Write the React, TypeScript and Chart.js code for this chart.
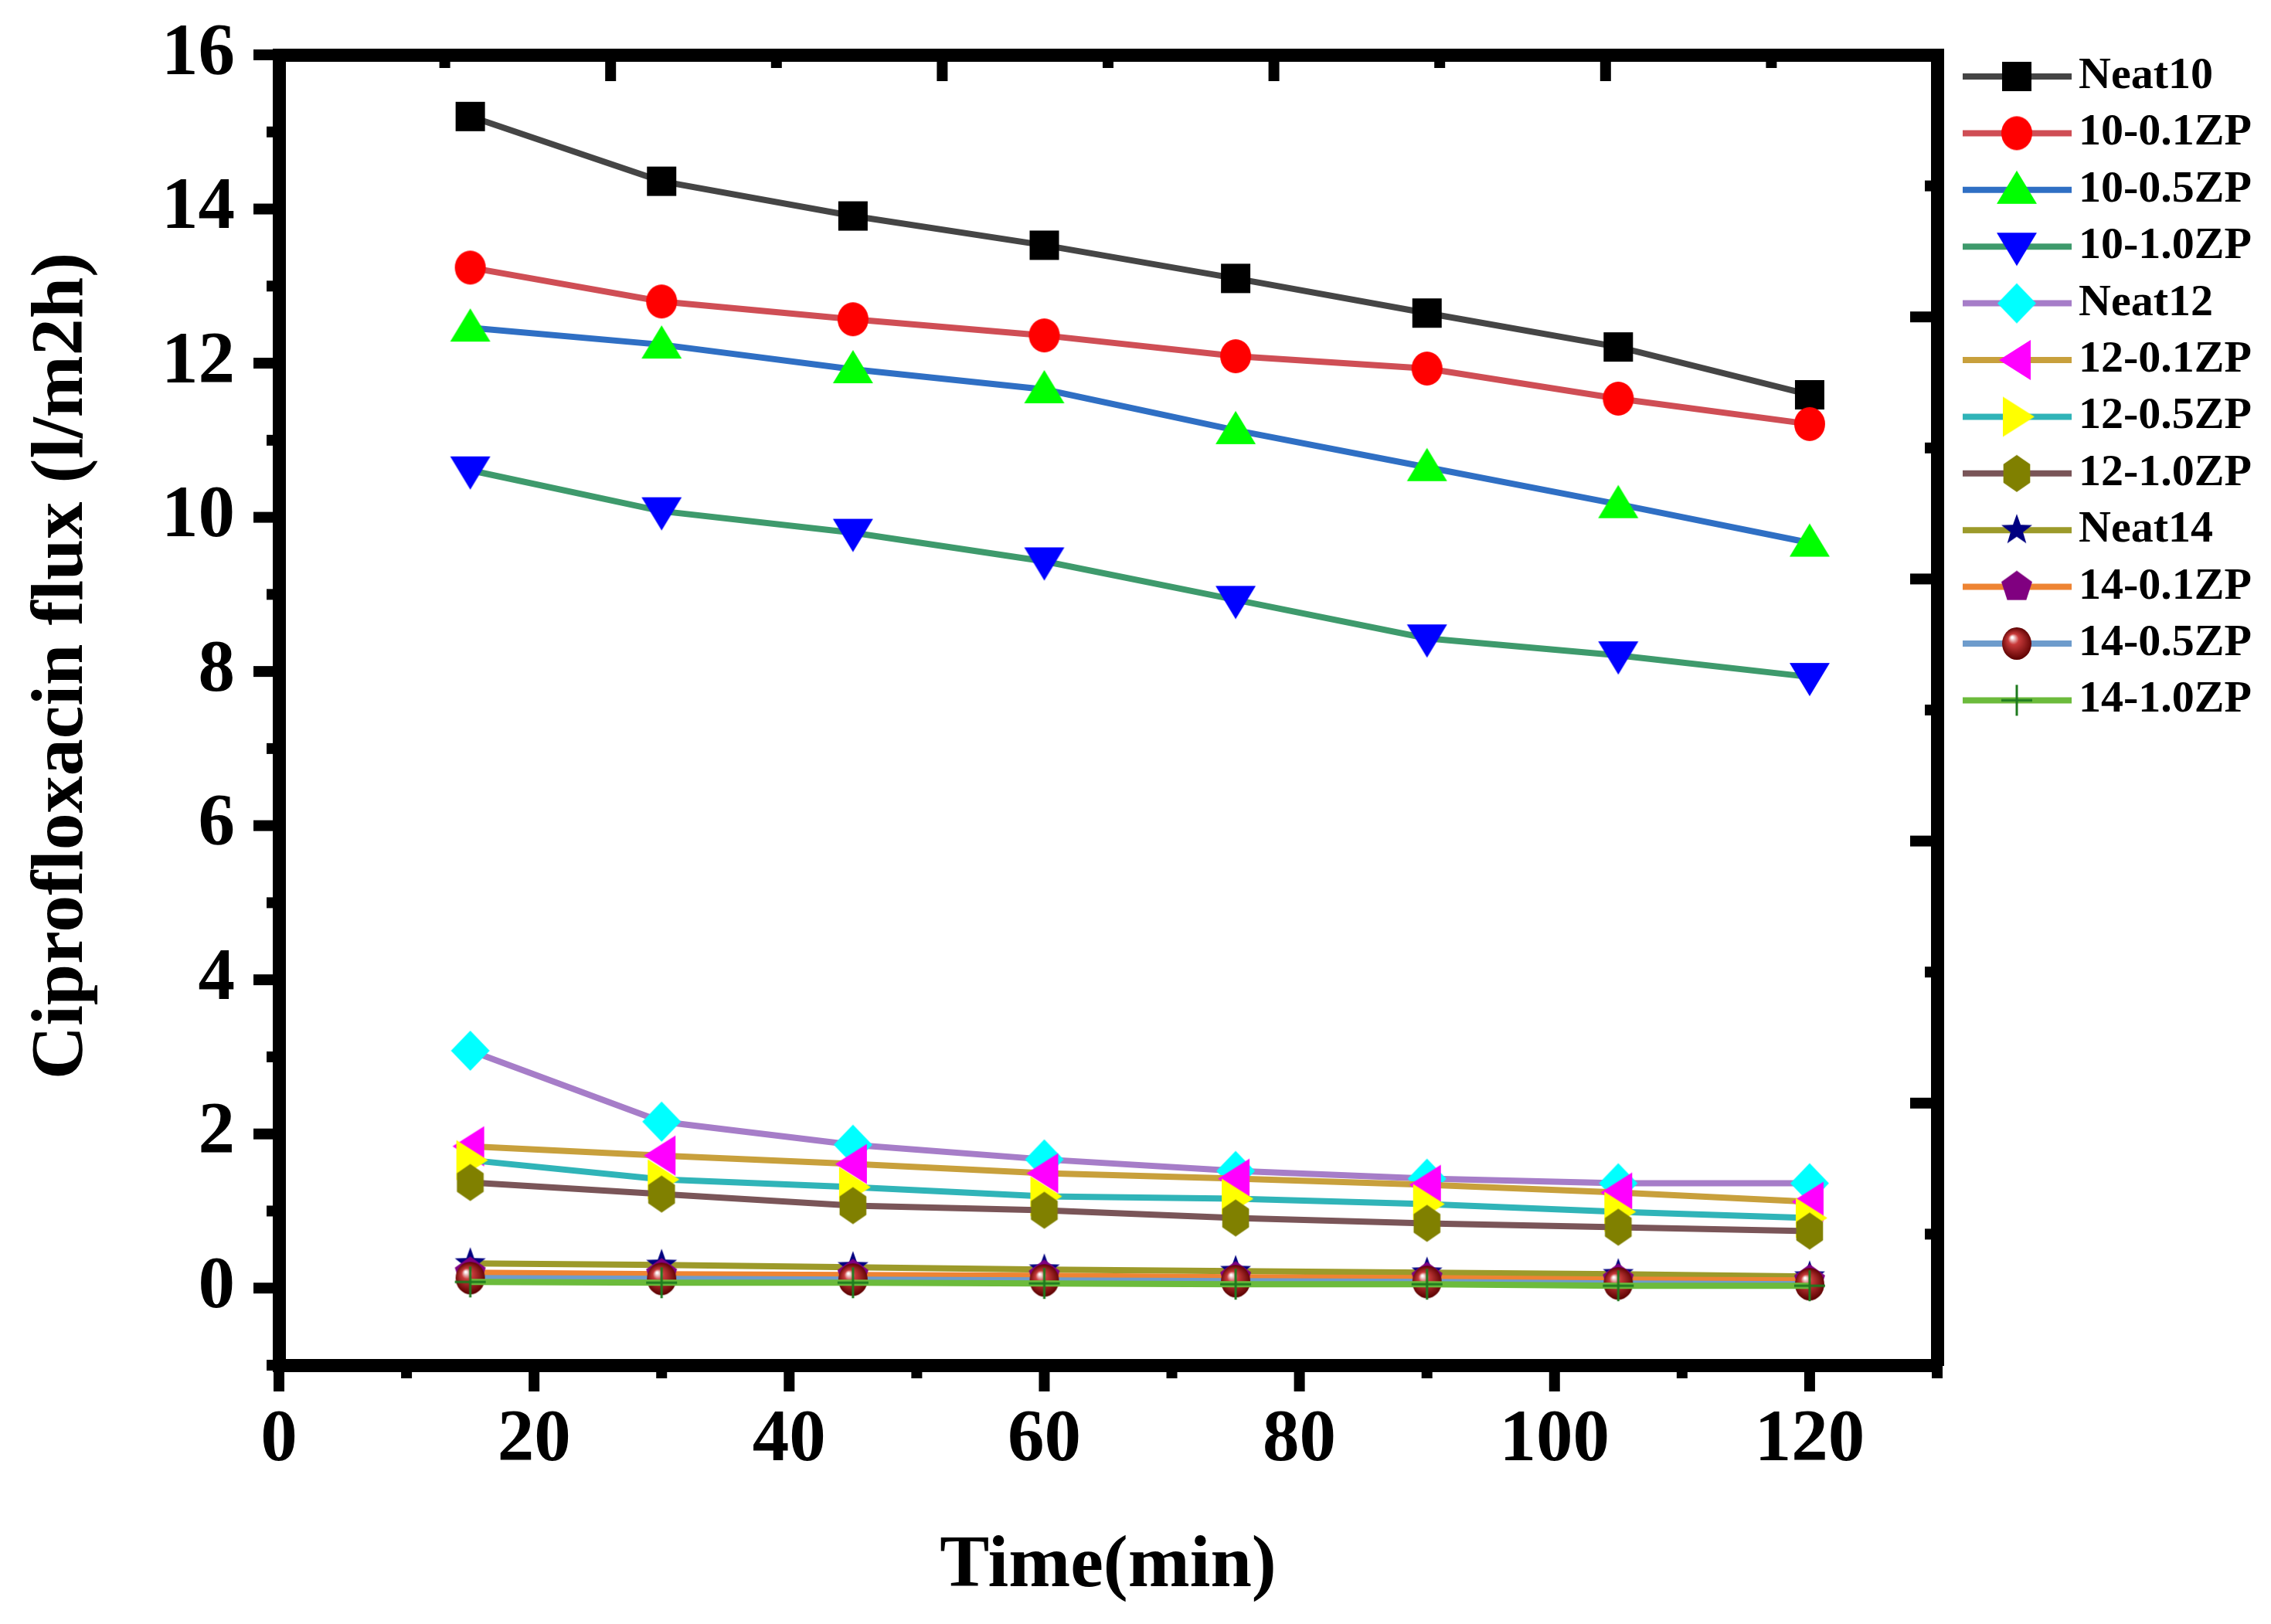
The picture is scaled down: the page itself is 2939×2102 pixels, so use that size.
import { useEffect, useRef } from 'react';
import { Chart, registerables } from 'chart.js';

Chart.register(...registerables);

// sampling times (min)
const times = [15, 30, 45, 60, 75, 90, 105, 120];

// flux values (l/m2h)
const neat10 = [15.2, 14.36, 13.91, 13.53, 13.1, 12.65, 12.21, 11.59];
const zp10_01 = [13.24, 12.8, 12.57, 12.36, 12.09, 11.93, 11.54, 11.21];
const zp10_05 = [12.46, 12.24, 11.92, 11.66, 11.13, 10.65, 10.17, 9.67];
const zp10_10 = [10.61, 10.08, 9.8, 9.43, 8.93, 8.43, 8.21, 7.93];
const neat12 = [3.08, 2.16, 1.86, 1.67, 1.52, 1.42, 1.36, 1.36];
const zp12_01 = [1.84, 1.72, 1.61, 1.49, 1.42, 1.34, 1.24, 1.12];
const zp12_05 = [1.66, 1.41, 1.31, 1.19, 1.16, 1.09, 0.99, 0.91];
const zp12_10 = [1.37, 1.22, 1.07, 1.01, 0.91, 0.84, 0.79, 0.74];
const neat14 = [0.32, 0.3, 0.27, 0.24, 0.22, 0.2, 0.18, 0.15];
const zp14_01 = [0.2, 0.18, 0.17, 0.16, 0.14, 0.13, 0.11, 0.1];
const zp14_05 = [0.13, 0.12, 0.11, 0.1, 0.09, 0.08, 0.06, 0.05];
const zp14_10 = [0.08, 0.07, 0.07, 0.06, 0.05, 0.05, 0.03, 0.03];

const seriesNames = [
  'Neat10', '10-0.1ZP', '10-0.5ZP', '10-1.0ZP',
  'Neat12', '12-0.1ZP', '12-0.5ZP', '12-1.0ZP',
  'Neat14', '14-0.1ZP', '14-0.5ZP', '14-1.0ZP',
];
const seriesValues = [
  neat10, zp10_01, zp10_05, zp10_10,
  neat12, zp12_01, zp12_05, zp12_10,
  neat14, zp14_01, zp14_05, zp14_10,
];

const xTickLabels = ['0', '20', '40', '60', '80', '100', '120'];
const yTickLabels = ['0', '2', '4', '6', '8', '10', '12', '14', '16'];

const lineColors = [
  '#454545', '#CF4E55', '#2F6FC4', '#3E9A6C',
  '#A67DC8', '#C8A03C', '#30B4B8', '#7A5558',
  '#9C9A2A', '#EE8433', '#6E9CCC', '#6CBB3C',
];
const markerKinds = [
  'square', 'circle', 'up', 'down',
  'diamond', 'left', 'right', 'hexagon',
  'star', 'pentagon', 'sphere', 'plus',
];
const markerFills = [
  '#000000', '#FF0000', '#00FF00', '#0000FF',
  '#00FFFF', '#FF00FF', '#FFFF00', '#808000',
  '#000080', '#800080', '#800000', '#1E7A1E',
];

const SERIF = '"Liberation Serif", "Times New Roman", serif';

function makeMarker(kind: string, fill: string): HTMLCanvasElement {
  const S = 64;
  const c = document.createElement('canvas');
  c.width = S;
  c.height = S;
  const g = c.getContext('2d')!;
  g.translate(S / 2, S / 2);
  g.fillStyle = fill;
  const poly = (pts: number[][]) => {
    g.beginPath();
    pts.forEach(([x, y], i) => (i ? g.lineTo(x, y) : g.moveTo(x, y)));
    g.closePath();
    g.fill();
  };
  const ring = (n: number, rx: number, ry: number, start: number) => {
    const pts: number[][] = [];
    for (let k = 0; k < n; k++) {
      const a = start + (k * 2 * Math.PI) / n;
      pts.push([rx * Math.cos(a), ry * Math.sin(a)]);
    }
    return pts;
  };
  switch (kind) {
    case 'square':
      g.fillRect(-19, -19, 38, 38);
      break;
    case 'circle':
      g.beginPath();
      g.ellipse(0, 0, 20, 22, 0, 0, Math.PI * 2);
      g.fill();
      break;
    case 'up':
      poly([[0, -25], [26, 18], [-26, 18]]);
      break;
    case 'down':
      poly([[0, 25], [26, -18], [-26, -18]]);
      break;
    case 'left':
      poly([[-23, 0], [18, -26], [18, 26]]);
      break;
    case 'right':
      poly([[23, 0], [-18, -26], [-18, 26]]);
      break;
    case 'diamond':
      poly([[0, -26], [25, 0], [0, 26], [-25, 0]]);
      break;
    case 'hexagon':
      poly(ring(6, 20, 24, -Math.PI / 2));
      break;
    case 'pentagon':
      poly(ring(5, 21, 21, -Math.PI / 2));
      break;
    case 'star': {
      const pts: number[][] = [];
      for (let k = 0; k < 10; k++) {
        const r = k % 2 === 0 ? 21 : 8.5;
        const a = -Math.PI / 2 + (k * Math.PI) / 5;
        pts.push([r * Math.cos(a), r * Math.sin(a)]);
      }
      poly(pts);
      break;
    }
    case 'sphere': {
      const grad = g.createRadialGradient(-6, -8, 1, 0, 0, 21);
      grad.addColorStop(0, '#FFFFFF');
      grad.addColorStop(0.3, '#C83A3A');
      grad.addColorStop(1, '#5A0000');
      g.fillStyle = grad;
      g.beginPath();
      g.ellipse(0, 0, 19, 21, 0, 0, Math.PI * 2);
      g.fill();
      break;
    }
    case 'plus':
      g.strokeStyle = fill;
      g.lineWidth = 3;
      g.beginPath();
      g.moveTo(0, -20);
      g.lineTo(0, 20);
      g.moveTo(-20, 0);
      g.lineTo(20, 0);
      g.stroke();
      break;
  }
  return c;
}

// ticks in the Origin style (outer on left/bottom, inner on top/right), y title and legend
const framePlugin = {
  id: 'frameDecor',
  afterDraw(chart: any) {
    const { ctx, chartArea: a, scales } = chart;
    const T = 14;
    ctx.save();
    ctx.fillStyle = '#000';
    scales.y.ticks.forEach((t: any) => {
      const p = scales.y.getPixelForValue(t.value);
      const len = t.value % 2 === 0 ? 33 : 16;
      ctx.fillRect(a.left - len, p - T / 2, len, T);
    });
    scales.x.ticks.forEach((t: any) => {
      const p = scales.x.getPixelForValue(t.value);
      const len = t.value % 20 === 0 ? 34 : 17;
      ctx.fillRect(p - T / 2, a.bottom, T, len);
    });
    scales.x2.ticks.forEach((t: any) => {
      const p = scales.x2.getPixelForValue(t.value);
      const len = t.value % 2 === 0 ? 34 : 17;
      ctx.fillRect(p - T / 2, a.top, T, len);
    });
    scales.y2.ticks.forEach((t: any) => {
      const p = scales.y2.getPixelForValue(t.value);
      const len = t.value % 2 === 0 ? 35 : 16;
      ctx.fillRect(a.right - len, p - T / 2, len, T);
    });

    // y axis title
    ctx.save();
    ctx.translate(81, 862);
    ctx.rotate(-Math.PI / 2);
    ctx.font = `bold 96px ${SERIF}`;
    ctx.textAlign = 'center';
    ctx.textBaseline = 'middle';
    ctx.fillText('Ciprofloxacin flux (l/m2h)', 0, 0);
    ctx.restore();

    // legend: line + marker + name
    const lx = a.right + 33;
    chart.data.datasets.forEach((ds: any, i: number) => {
      const y = 99 + i * 73.4;
      ctx.strokeStyle = ds.borderColor;
      ctx.lineWidth = 8;
      ctx.beginPath();
      ctx.moveTo(lx, y);
      ctx.lineTo(lx + 141, y);
      ctx.stroke();
      const img = ds.pointStyle as HTMLCanvasElement;
      ctx.drawImage(img, lx + 70 - img.width / 2, y - img.height / 2);
      ctx.fillStyle = '#000';
      ctx.font = `bold 58px ${SERIF}`;
      ctx.textAlign = 'left';
      ctx.textBaseline = 'middle';
      ctx.fillText(ds.label, lx + 150, y);
    });
    ctx.restore();
  },
};

// fixed box sizes so the plot frame lands where the original has it
const fixBox = (size: { width?: number; height?: number }) => (s: any) => {
  if (size.width !== undefined) s.width = size.width;
  if (size.height !== undefined) s.height = size.height;
  s.paddingTop = 0;
  s.paddingBottom = 0;
  s.paddingLeft = 0;
  s.paddingRight = 0;
};

export default function App() {
  const chartRef = useRef<HTMLCanvasElement | null>(null);

  useEffect(() => {
    if (!chartRef.current) return;
    const ctx = chartRef.current.getContext('2d');
    if (!ctx) return;

    const n = seriesValues.length;
    const datasets = seriesValues.map((vals, i) => ({
      label: seriesNames[i],
      data: times.map((t, j) => ({ x: t, y: vals[j] })),
      borderColor: lineColors[i],
      backgroundColor: markerFills[i],
      borderWidth: 8,
      pointStyle: makeMarker(markerKinds[i], markerFills[i]),
      pointRadius: 20,
      tension: 0,
      order: n - i,
      xAxisID: 'x',
      yAxisID: 'y',
    }));

    const tickFont = { family: SERIF, size: 95, weight: 'bold' as const };

    const chartInstance = new Chart(ctx, {
      type: 'line',
      data: { datasets },
      options: {
        responsive: false,
        animation: false,
        layout: { padding: 0, autoPadding: false },
        plugins: {
          legend: { display: false },
          tooltip: { enabled: false },
        },
        scales: {
          x: {
            type: 'linear',
            position: 'bottom',
            min: 0,
            max: 130,
            afterFit: fixBox({ height: 335 }),
            ticks: {
              stepSize: 10,
              autoSkip: false,
              maxRotation: 0,
              padding: 41,
              color: '#000',
              font: tickFont,
              callback: (v: any) => (xTickLabels.includes(String(v)) ? String(v) : ''),
            },
            grid: { display: false, drawTicks: false },
            border: { display: true, color: '#000', width: 17 },
            title: {
              display: true,
              text: 'Time(min)',
              color: '#000',
              font: { family: SERIF, size: 96, weight: 'bold' },
              padding: { top: 0, bottom: 16 },
            },
          },
          y: {
            type: 'linear',
            position: 'left',
            min: -1,
            max: 16,
            afterFit: fixBox({ width: 361 }),
            ticks: {
              stepSize: 1,
              autoSkip: false,
              padding: 57,
              color: '#000',
              font: tickFont,
              callback: (v: any) => (yTickLabels.includes(String(v)) ? String(v) : ''),
            },
            grid: { display: false, drawTicks: false },
            border: { display: true, color: '#000', width: 17 },
          },
          x2: {
            type: 'linear',
            position: 'top',
            min: 0,
            max: 10,
            afterFit: fixBox({ height: 71 }),
            ticks: { stepSize: 1, display: false, autoSkip: false },
            grid: { display: false, drawTicks: false },
            border: { display: true, color: '#000', width: 17 },
          },
          y2: {
            type: 'linear',
            position: 'right',
            min: 0,
            max: 10,
            afterFit: fixBox({ width: 432 }),
            ticks: { stepSize: 1, display: false, autoSkip: false },
            grid: { display: false, drawTicks: false },
            border: { display: true, color: '#000', width: 17 },
          },
        },
      },
      plugins: [framePlugin],
    });

    return () => {
      chartInstance.destroy();
    };
  }, []);

  return (
    <div
      style={{
        position: 'fixed',
        left: 0,
        top: 0,
        width: 2939,
        height: 2102,
        background: '#fff',
      }}
    >
      <canvas ref={chartRef} width={2939} height={2102}></canvas>
    </div>
  );
}
